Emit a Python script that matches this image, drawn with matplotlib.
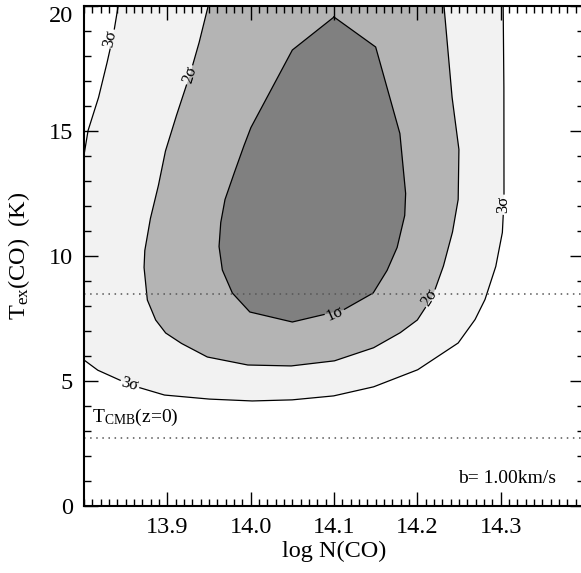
import numpy as np
import matplotlib
matplotlib.use("Agg")
import matplotlib.pyplot as plt

plt.rcParams.update({
    "font.family": "Liberation Serif",
    "mathtext.fontset": "custom",
    "mathtext.rm": "Liberation Serif",
    "mathtext.it": "Liberation Serif:italic",
    "font.size": 17,
})

# confidence contours in (log N, T_ex) space
sig1_logN = [14.10, 14.15, 14.179, 14.186, 14.185, 14.176, 14.164, 14.147, 14.111,
             14.050, 13.999, 13.978, 13.966, 13.962, 13.964, 13.969, 13.976, 13.990,
             14.000, 14.050]
sig1_T = [19.56, 18.36, 14.92, 12.52, 11.64, 10.36, 9.44, 8.52, 7.84,
          7.36, 7.76, 8.52, 9.44, 10.36, 11.32, 12.24, 12.92, 14.24,
          15.12, 18.24]

sig2_logN = [13.949, 13.939, 13.927, 13.913, 13.898, 13.890, 13.880, 13.873, 13.872,
             13.876, 13.886, 13.898, 13.916, 13.948, 13.996, 14.048, 14.100, 14.147,
             14.179, 14.200, 14.218, 14.231, 14.242, 14.249, 14.250, 14.242, 14.232]
sig2_T = [20.0, 18.64, 17.24, 15.84, 14.24, 12.92, 11.56, 10.24, 9.56,
          8.24, 7.44, 6.92, 6.52, 5.96, 5.64, 5.60, 5.80, 6.32,
          6.92, 7.44, 8.36, 9.56, 10.92, 12.24, 14.24, 16.24, 20.0]

sig3a_logN = [13.841, 13.836, 13.829, 13.818, 13.805, 13.800]
sig3a_T = [20.0, 19.0, 17.92, 16.4, 15.04, 14.04]

sig3b_logN = [13.800, 13.816, 13.856, 13.896, 13.948, 14.000, 14.048, 14.099, 14.147,
              14.200, 14.249, 14.269, 14.281, 14.294, 14.302, 14.304, 14.304, 14.304,
              14.303]
sig3b_T = [5.84, 5.44, 4.84, 4.44, 4.28, 4.20, 4.24, 4.40, 4.76,
           5.44, 6.52, 7.44, 8.24, 9.56, 10.92, 12.24, 14.24, 16.24,
           20.0]

# contour labels: text, logN, T, rotation
labels = [
    ("3σ", 13.831, 18.70, 78),
    ("2σ", 13.927, 17.24, 73),
    ("1σ", 14.101, 7.70, 24),
    ("2σ", 14.215, 8.32, 58),
    ("3σ", 14.303, 12.05, 90),
    ("3σ", 13.855, 4.86, -15),
]

T_cmb = 2.73
T_ref = 8.5
b_value = 1.00

fig = plt.figure(figsize=(5.81, 5.73), dpi=100)
ax = fig.add_axes([84 / 581, 67 / 573, 500 / 581, 500 / 573])
ax.set_xlim(13.8, 14.4)
ax.set_ylim(0, 20)

# filled regions
ax.fill(sig3a_logN + sig3b_logN + [13.8], sig3a_T + sig3b_T + [20], color="#f2f2f2", lw=0)
ax.fill(sig2_logN, sig2_T, color="#b4b4b4", lw=0)
ax.fill(sig1_logN, sig1_T, color="#808080", lw=0)

fig.canvas.draw()
label_pix = [ax.transData.transform((x, y)) for _, x, y, _ in labels]


def gapped(xs, ys, closed=False, r=10.5):
    xs, ys = list(xs), list(ys)
    if closed:
        xs.append(xs[0])
        ys.append(ys[0])
    px = ax.transData.transform(np.column_stack([xs, ys]))
    pts = []
    for a, b in zip(px[:-1], px[1:]):
        n = max(int(np.hypot(*(b - a)) / 0.5), 1)
        t = np.linspace(0, 1, n, endpoint=False)[:, None]
        pts.append(a + (b - a) * t)
    pts.append(px[-1:])
    pts = np.vstack(pts)
    for lp in label_pix:
        d = np.hypot(pts[:, 0] - lp[0], pts[:, 1] - lp[1])
        pts[d < r] = np.nan
    data = ax.transData.inverted().transform(pts)
    return data[:, 0], data[:, 1]


for xs, ys, cl in [(sig1_logN, sig1_T, True), (sig2_logN, sig2_T, False),
                   (sig3a_logN, sig3a_T, False), (sig3b_logN, sig3b_T, False)]:
    gx, gy = gapped(xs, ys, cl)
    ax.plot(gx, gy, color="black", lw=0.9)

for txt, x, y, rot in labels:
    ax.text(x, y, txt, fontsize=12, rotation=rot, ha="center", va="center",
            rotation_mode="anchor")

ax.axhline(T_ref, color="#555555", lw=1.1, ls=(0, (1, 3)))
ax.axhline(T_cmb, color="#555555", lw=1.1, ls=(0, (1, 3)))
ax.text(13.81, T_cmb + 0.38, r"T$_{\mathrm{CMB}}$(z=0)", fontsize=14, ha="left", va="bottom")
ax.text(14.366, 0.75, f"b= {b_value:.2f}km/s", fontsize=14, ha="right", va="bottom")

ax.set_xticks([13.9, 14.0, 14.1, 14.2, 14.3])
ax.set_xticklabels(["13.9", "14.0", "14.1", "14.2", "14.3"])
ax.set_xticks(np.arange(13.8, 14.4001, 0.01), minor=True)
ax.set_yticks([0, 5, 10, 15, 20])
ax.set_yticks(np.arange(0, 20.01, 1), minor=True)
ax.tick_params(which="both", direction="in", top=True, right=True, width=1.0, labelsize=17.5)
ax.tick_params(which="major", length=10, pad=8)
ax.tick_params(which="minor", length=5)
for s in ax.spines.values():
    s.set_linewidth(1.5)

# keep the top y label inside the frame
ax.get_yticklabels()[-1].set_va("top")

ax.set_xlabel("log N(CO)", fontsize=17.5, labelpad=2)
ax.set_ylabel(r"T$_{\mathrm{ex}}$(CO)  (K)", fontsize=17.5, labelpad=12)

fig.savefig("out.png", dpi=100)
